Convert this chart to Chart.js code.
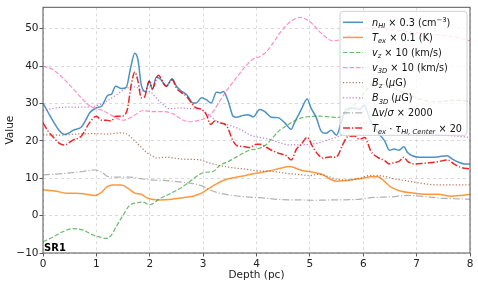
<!DOCTYPE html>
<html><head><meta charset="utf-8">
<script src="https://cdn.jsdelivr.net/npm/chart.js@4"></script>
<style>html,body{margin:0;padding:0;background:#fff}canvas{display:block}</style>
</head><body>
<canvas id="c" width="478" height="286"></canvas>
<script>
// ---- data (depth in pc, values) ----
const nHI_depth = [0,0.1,0.2,0.3,0.4,0.5,0.56,0.72,0.8,0.875,1.0,1.1,1.22,1.28,1.36,1.47,1.56,1.64,1.72,1.78,1.84,1.92,1.99,2.05,2.12,2.2,2.31,2.42,2.5,2.6,2.69,2.81,2.87,2.97,3.06,3.15,3.25,3.32,3.38,3.47,3.56,3.62,3.75,3.84,3.94,4.06,4.15,4.28,4.4,4.53,4.65,4.71,4.84,4.95,5.02,5.12,5.21,5.3,5.4,5.5,5.58,5.68,5.8,5.93,6.02,6.08,6.14,6.27,6.4,6.49,6.58,6.67,6.76,6.83,6.92,7.05,7.2,7.4,7.57,7.67,7.8,7.9,8.0];
const nHI_vals  = [30.1,27.5,25.0,22.8,21.7,22.2,22.8,23.7,25.5,27.5,28.8,29.3,32.2,32.4,34.6,34.0,34.3,39.4,43.4,41.6,35.0,33.1,36.0,33.7,37.0,36.5,34.6,36.6,34.6,33.2,32.4,30.1,30.1,31.5,31.0,30.1,33.0,32.8,33.2,30.6,26.6,26.3,26.8,27.0,26.4,28.4,27.9,26.3,26.2,24.8,23.1,24.8,28.4,31.2,28.8,26.2,22.6,22.0,22.8,21.5,24.6,28.4,28.8,28.4,29.5,27.5,25.3,22.2,20.0,17.5,17.8,17.5,18.4,16.9,16.0,15.6,15.6,15.7,16.0,15.1,14.2,13.8,13.8];

const tex_depth = [0,0.25,0.44,0.62,0.81,0.97,1.1,1.19,1.31,1.47,1.6,1.72,1.84,1.94,2.06,2.19,2.37,2.62,2.81,2.97,3.1,3.25,3.41,3.56,3.72,3.87,4.03,4.25,4.43,4.62,4.75,4.87,5.0,5.12,5.25,5.37,5.5,5.68,5.87,6.0,6.14,6.27,6.4,6.52,6.71,6.9,7.14,7.4,7.64,7.83,8.0];
const tex_vals  = [6.9,6.5,6.0,6.0,5.7,5.4,6.3,7.6,8.2,8.2,7.2,6.0,5.7,4.8,4.3,4.2,4.3,4.8,5.2,6.0,7.2,8.5,9.6,10.1,10.5,11.0,11.4,12.0,12.6,13.1,12.6,12.0,11.8,11.4,10.9,9.8,9.2,9.4,9.8,10.0,10.4,10.4,9.1,7.6,6.5,6.1,5.7,5.7,5.2,5.4,5.7];

const vz_depth = [0,0.19,0.37,0.56,0.75,0.94,1.1,1.19,1.28,1.37,1.5,1.62,1.75,1.87,2.0,2.19,2.37,2.56,2.75,2.94,3.06,3.19,3.31,3.5,3.69,3.87,4.06,4.19,4.31,4.43,4.56,4.68,4.81,5.0,5.18,5.37,5.52,5.68,5.8,5.93,6.05,6.2,6.4,6.58,6.77,6.96,7.14,7.4,7.64,7.83,8.0];
const vz_vals  = [-7.0,-5.7,-4.3,-3.5,-3.9,-5.2,-5.9,-6.1,-5.2,-3.0,0.1,2.7,3.4,3.6,2.9,4.5,5.8,7.2,9.1,11.1,11.6,11.8,13.4,14.7,16.2,17.5,18.0,19.1,20.9,22.8,24.0,25.1,26.0,26.5,26.6,26.4,26.2,27.5,29.3,31.0,33.5,35.3,35.0,34.0,32.8,31.7,30.8,30.4,30.8,30.8,30.4];

const v3d_depth = [0,0.19,0.37,0.56,0.75,0.87,1.0,1.12,1.31,1.5,1.69,1.87,2.06,2.25,2.44,2.6,2.75,2.94,3.06,3.19,3.31,3.5,3.69,3.8,3.94,4.06,4.19,4.31,4.43,4.56,4.68,4.81,4.93,5.06,5.18,5.31,5.43,5.56,5.77,6.0,6.27,6.58,6.96,7.4,7.71,8.0];
const v3d_vals  = [40.0,39.0,36.8,34.0,31.0,29.4,28.6,28.1,26.6,25.5,26.6,28.1,27.8,27.8,27.2,25.7,25.1,25.6,26.2,27.9,30.6,34.6,38.1,40.0,41.9,42.5,43.9,46.1,48.7,50.9,52.3,53.0,52.5,51.1,49.2,47.6,46.7,47.0,48.3,49.9,50.2,49.6,49.0,48.3,47.8,46.7];

const bz_depth = [0,0.31,0.62,1.0,1.19,1.44,1.56,1.69,1.81,1.94,2.04,2.12,2.31,2.62,2.94,3.09,3.25,3.5,3.75,4.0,4.31,4.56,4.81,5.0,5.18,5.37,5.56,5.75,5.93,6.12,6.25,6.4,6.58,6.77,7.02,7.27,7.52,8.0];
const bz_vals  = [21.6,21.5,21.8,21.9,21.8,22.1,21.9,20.4,18.7,16.9,16.0,15.4,15.6,15.1,14.9,14.2,13.6,12.9,12.5,12.0,11.8,11.3,11.0,10.7,11.1,10.3,9.6,9.5,10.0,10.7,10.7,10.5,9.8,9.4,8.8,8.3,8.2,8.2];

const b3d_depth = [0,0.25,0.5,0.75,1.0,1.19,1.37,1.56,1.72,1.87,2.0,2.12,2.25,2.37,2.56,2.75,2.94,3.06,3.25,3.44,3.69,3.87,4.06,4.25,4.43,4.62,4.81,5.0,5.18,5.37,5.56,5.75,5.93,6.0,6.27,6.52,6.77,7.08,7.4,7.7,8.0];
const b3d_vals  = [28.1,28.8,29.0,29.0,29.4,30.6,32.2,34.0,34.4,33.4,33.2,31.5,29.7,28.6,28.8,28.6,28.4,27.5,25.3,24.4,23.1,21.6,20.9,20.4,19.5,18.9,18.9,19.1,19.5,20.4,21.3,23.1,24.4,24.8,24.4,23.1,22.2,21.8,21.6,21.3,20.9];

const dv_depth = [0,0.25,0.5,0.75,0.97,1.1,1.22,1.37,1.62,1.87,2.06,2.25,2.5,2.75,2.97,3.12,3.31,3.56,3.81,4.06,4.43,4.81,5.06,5.43,5.87,6.14,6.52,6.83,7.14,7.52,8.0];
const dv_vals  = [10.9,11.1,11.4,11.8,12.2,11.6,10.4,10.3,10.3,9.8,9.5,9.4,9.1,8.7,8.0,6.9,6.0,5.4,5.0,4.8,4.3,4.2,4.1,4.2,4.3,4.8,5.0,5.4,5.1,4.6,4.4];

const tt_depth = [0,0.1,0.19,0.3,0.4,0.56,0.72,0.87,1.0,1.1,1.19,1.28,1.36,1.47,1.57,1.66,1.72,1.78,1.84,1.9,1.99,2.05,2.16,2.31,2.42,2.5,2.6,2.69,2.78,2.87,2.97,3.06,3.14,3.22,3.31,3.44,3.56,3.65,3.75,3.87,4.0,4.06,4.19,4.31,4.43,4.56,4.65,4.75,4.84,4.95,5.06,5.15,5.24,5.37,5.45,5.52,5.62,5.71,5.84,5.93,6.03,6.08,6.14,6.27,6.4,6.49,6.58,6.67,6.76,6.83,6.96,7.14,7.4,7.58,7.7,7.83,8.0];
const tt_vals  = [24.8,22.5,21.0,19.4,18.9,20.2,21.3,24.8,26.6,25.5,25.5,25.3,26.6,26.6,27.9,35.5,38.4,35.9,31.5,31.7,35.9,34.0,37.5,34.6,36.3,34.1,32.8,31.9,30.1,28.8,28.4,27.0,24.4,25.3,24.8,24.0,20.0,18.6,18.5,18.2,19.1,19.1,18.2,17.3,16.6,16.0,14.9,17.8,19.1,20.9,18.2,16.4,15.4,15.7,15.6,16.0,19.1,21.1,21.3,20.4,20.9,19.5,17.3,15.6,14.7,13.8,14.2,14.5,15.6,14.5,13.8,14.0,14.4,14.9,13.8,12.9,12.5];

const xTicks = [0,1,2,3,4,5,6,7,8];
const yTicks = [-10,0,10,20,30,40,50];

// legend labels as rich-text segments (i: italic, sub/sup)
const legendLabels = [
  [{t:'n',i:1},{t:'HI',i:1,sub:1},{t:' × 0.3 (cm'},{t:'−3',sup:1},{t:')'}],
  [{t:'T',i:1},{t:'ex',i:1,sub:1},{t:' × 0.1 (K)'}],
  [{t:'v',i:1},{t:'z',i:1,sub:1},{t:' × 10 (km/s)'}],
  [{t:'v',i:1},{t:'3D',i:1,sub:1},{t:' × 10 (km/s)'}],
  [{t:'B',i:1},{t:'z',i:1,sub:1},{t:' ('},{t:'μ',i:1},{t:'G)'}],
  [{t:'B',i:1},{t:'3D',i:1,sub:1},{t:' ('},{t:'μ',i:1},{t:'G)'}],
  [{t:'Δ'},{t:'v',i:1},{t:'/'},{t:'σ',i:1},{t:' × 2000'}],
  [{t:'T',i:1},{t:'ex',i:1,sub:1},{t:' · '},{t:'τ',i:1},{t:'HI, Center',i:1,sub:1},{t:' × 20'}]
];

function pts(xs, ys){ return xs.map((x,k)=>({x:x, y:ys[k]})); }

const series = [
  {d:nHI_depth, v:nHI_vals, c:'rgba(31,119,180,0.8)', w:1.5, dash:[]},
  {d:tex_depth, v:tex_vals, c:'rgba(255,127,14,0.8)', w:1.5, dash:[]},
  {d:vz_depth, v:vz_vals, c:'rgba(44,160,44,0.7)', w:1.2, dash:[4.5,2]},
  {d:v3d_depth, v:v3d_vals, c:'rgba(255,105,180,0.75)', w:1.2, dash:[4.5,2]},
  {d:bz_depth, v:bz_vals, c:'rgba(160,82,45,0.8)', w:1.2, dash:[1.2,2]},
  {d:b3d_depth, v:b3d_vals, c:'rgba(160,80,200,0.75)', w:1.2, dash:[1.2,2]},
  {d:dv_depth, v:dv_vals, c:'rgba(127,127,127,0.6)', w:1.2, dash:[7,2,1.2,2]},
  {d:tt_depth, v:tt_vals, c:'rgba(235,0,0,0.85)', w:1.5, dash:[7,2,1.2,2]}
];

const datasets = series.map((s,k)=>({
  data: pts(s.d, s.v),
  borderColor: s.c, borderWidth: s.w, borderDash: s.dash,
  pointRadius: 0, fill: false, cubicInterpolationMode: 'monotone',
  order: series.length - k
}));

const FONT = '"DejaVu Sans", sans-serif';

const overlay = {
  id: 'overlay',
  afterDraw(chart){
    const ctx = chart.ctx, a = chart.chartArea;
    ctx.save();
    // SR1 tag
    ctx.fillStyle = '#000';
    ctx.font = 'bold 10px ' + FONT;
    ctx.textBaseline = 'alphabetic';
    ctx.textAlign = 'left';
    ctx.fillText('SR1', a.left + 1, a.bottom - 2);
    // legend
    const bw = 127, bh = 124;
    const bx = a.right - 3 - bw, by = a.top + 4;
    ctx.beginPath();
    if (ctx.roundRect) ctx.roundRect(bx, by, bw, bh, 3); else ctx.rect(bx, by, bw, bh);
    ctx.fillStyle = 'rgba(255,255,255,0.8)';
    ctx.fill();
    ctx.strokeStyle = 'rgba(204,204,204,0.9)';
    ctx.lineWidth = 1;
    ctx.stroke();
    const base = 9.7;
    legendLabels.forEach((segs, k) => {
      const s = series[k];
      const cy = by + 11 + k * 15.1;
      ctx.beginPath();
      ctx.setLineDash(s.dash);
      ctx.strokeStyle = s.c;
      ctx.lineWidth = s.w;
      ctx.moveTo(bx + 3, cy); ctx.lineTo(bx + 23, cy);
      ctx.stroke();
      ctx.setLineDash([]);
      let x = bx + 32;
      ctx.fillStyle = '#111';
      ctx.textBaseline = 'alphabetic';
      segs.forEach(g => {
        const size = (g.sub || g.sup) ? base * 0.7 : base;
        ctx.font = (g.i ? 'italic ' : '') + size + 'px ' + FONT;
        let y = cy + 3.5;
        if (g.sub) y += 2.2;
        if (g.sup) y -= 4;
        ctx.fillText(g.t, x, y);
        x += ctx.measureText(g.t).width;
      });
    });
    // frame
    ctx.strokeStyle = '#555';
    ctx.lineWidth = 1;
    ctx.strokeRect(a.left, a.top, a.right - a.left, a.bottom - a.top);
    ctx.restore();
  }
};

new Chart(document.getElementById('c'), {
  type: 'line',
  data: { datasets },
  options: {
    responsive: false, animation: false, devicePixelRatio: 1,
    layout: { padding: { top: 5, right: 8, left: 0, bottom: 0 } },
    plugins: { legend: { display: false }, tooltip: { enabled: false } },
    scales: {
      x: {
        type: 'linear', min: 0, max: 8,
        afterBuildTicks: sc => { sc.ticks = xTicks.map(v => ({value: v})); },
        afterFit: sc => { sc.height = 33; },
        ticks: { font: { family: FONT, size: 10.5 }, color: '#222', padding: 1, maxRotation: 0,
                 callback: v => String(v) },
        grid: { color: 'rgba(190,190,190,0.7)', tickColor: '#333', tickLength: 3.5, lineWidth: 0.8 },
        border: { display: false, dash: [3, 3] },
        title: { display: true, text: 'Depth (pc)', font: { family: FONT, size: 10.5 }, color: '#222', padding: { top: 2, bottom: 4 } }
      },
      y: {
        type: 'linear', min: -10, max: 55.7,
        afterBuildTicks: sc => { sc.ticks = yTicks.map(v => ({value: v})); },
        afterFit: sc => { sc.width = 43; },
        ticks: { font: { family: FONT, size: 10.5 }, color: '#222', padding: 1,
                 callback: v => (v < 0 ? '−' + Math.abs(v) : String(v)) },
        grid: { color: 'rgba(190,190,190,0.7)', tickColor: '#333', tickLength: 3.5, lineWidth: 0.8 },
        border: { display: false, dash: [3, 3] },
        title: { display: true, text: 'Value', font: { family: FONT, size: 10.5 }, color: '#222', padding: { top: 4, bottom: 2 } }
      }
    }
  },
  plugins: [overlay]
});
</script>
</body></html>
